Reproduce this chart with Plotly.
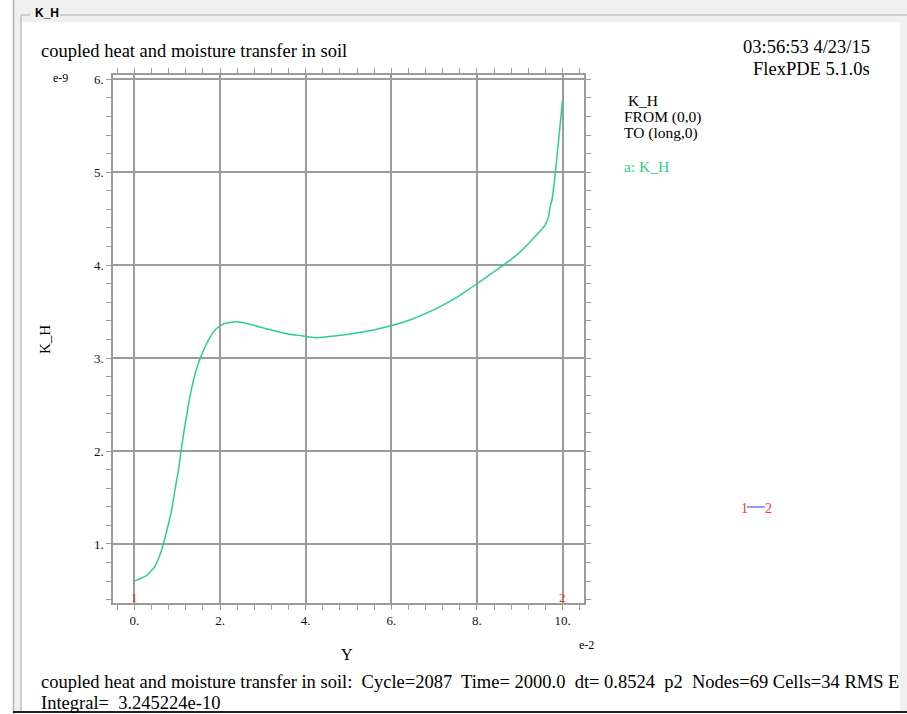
import plotly.graph_objects as go

# ---- data (Y in units of 1e-2, K_H in units of 1e-9) ----
y_pos = [0, 0.28, 0.48, 0.64, 0.76, 0.87, 0.95, 1.03, 1.09, 1.16, 1.24, 1.32, 1.43, 1.54,
         1.70, 1.90, 2.09, 2.37, 2.65, 3.12, 3.59, 3.91, 4.26, 4.72, 5.19, 5.66, 6.0, 6.43,
         6.9, 7.37, 7.68, 8.0, 8.31, 8.62, 8.93, 9.24, 9.59, 9.67, 9.71, 9.75, 9.83, 9.90,
         9.96, 10.0]
k_h = [0.60, 0.66, 0.76, 0.94, 1.15, 1.37, 1.59, 1.80, 2.0, 2.22, 2.44, 2.64, 2.85, 3.0,
       3.17, 3.31, 3.37, 3.39, 3.37, 3.31, 3.26, 3.24, 3.22, 3.24, 3.27, 3.31, 3.35, 3.41,
       3.50, 3.61, 3.70, 3.80, 3.90, 4.0, 4.11, 4.25, 4.43, 4.52, 4.63, 4.70, 4.99, 5.31,
       5.59, 5.78]
end_labels = ["1", "2"]
end_pos = [0, 10]

title_text = "coupled heat and moisture transfer in soil"
stamp_lines = ["03:56:53 4/23/15", "FlexPDE 5.1.0s"]
legend_lines = [" K_H", "FROM (0,0)", "TO (long,0)"]
series_name = "a: K_H"
footer_lines = ["coupled heat and moisture transfer in soil:  Cycle=2087  Time= 2000.0  dt= 0.8524  p2  Nodes=69 Cells=34 RMS E",
                "Integral=  3.245224e-10"]

# ---- layout geometry ----
W_FIG, H_FIG = 907, 714
L, R, T, B = 113, 584, 75, 603
PW, PH = R - L, B - T

def px(x):
    return (x - L) / PW

def py(y):
    return (B - y) / PH

SERIF = "Liberation Serif, Times New Roman, serif"
GREEN = "#2ecf88"
GRID = "#9c9c9c"

fig = go.Figure()
fig.add_trace(go.Scatter(x=y_pos, y=k_h, mode="lines",
                         line=dict(color=GREEN, width=1.5, shape="spline", smoothing=0.5),
                         showlegend=False, hoverinfo="skip"))

shapes = [
    # window background
    dict(type="rect", xref="paper", yref="paper", x0=px(13), x1=px(907), y0=py(712), y1=py(0),
         fillcolor="#f0f0f0", line=dict(width=0), layer="below"),
    dict(type="rect", xref="paper", yref="paper", x0=px(22), x1=px(900), y0=py(711), y1=py(22),
         fillcolor="white", line=dict(width=0), layer="below"),
    dict(type="line", xref="paper", yref="paper", x0=px(13.5), x1=px(13.5), y0=py(714), y1=py(0),
         line=dict(color="#b4b4b4", width=1.5), layer="below"),
    # group box border
    dict(type="line", xref="paper", yref="paper", x0=px(21), x1=px(21), y0=py(711), y1=py(15),
         line=dict(color="#c4c4c4", width=1.5), layer="below"),
    dict(type="line", xref="paper", yref="paper", x0=px(21), x1=px(30), y0=py(15), y1=py(15),
         line=dict(color="#c4c4c4", width=1.5), layer="below"),
    dict(type="line", xref="paper", yref="paper", x0=px(60), x1=px(907), y0=py(15), y1=py(15),
         line=dict(color="#c4c4c4", width=1.5), layer="below"),
    dict(type="line", xref="paper", yref="paper", x0=px(13), x1=px(907), y0=py(712), y1=py(712),
         line=dict(color="#202020", width=2), layer="below"),
    # small 1-2 marker
    dict(type="line", xref="paper", yref="paper", x0=px(747), x1=px(765), y0=py(507), y1=py(507),
         line=dict(color="#3030ff", width=1)),
]

ann = []
def text(x, y, s, size=16, color="black", xanchor="left", family=SERIF, **kw):
    ann.append(dict(x=px(x), y=py(y), xref="paper", yref="paper", text=s, showarrow=False,
                    xanchor=xanchor, yanchor="middle",
                    font=dict(family=family, size=size, color=color), **kw))

text(33, 13, "<b>K_H</b>", size=12, family="Liberation Sans, Arial, sans-serif")
text(39, 51, title_text, size=18.5)
text(872, 47, stamp_lines[0], size=18.5, xanchor="right")
text(872, 69, stamp_lines[1], size=18.5, xanchor="right")
for i, s in enumerate(legend_lines):
    text(622, 100 + i * 16.5, s, size=15.5)
text(622, 167, series_name, size=15.5, color=GREEN)
text(51, 78, "e-9", size=12)
text(577, 645, "e-2", size=12)
text(347, 654, "Y", size=16, xanchor="center")
text(45, 340, "K_H", size=15, xanchor="center", textangle=-90)
text(39, 682, footer_lines[0], size=18.5)
text(39, 703, footer_lines[1], size=18.5)
text(744, 508, "1", size=14, color="#ff3030", xanchor="center")
text(768, 508, "2", size=14, color="#ff3030", xanchor="center")

for lab, xv in zip(end_labels, end_pos):
    ann.append(dict(x=xv, y=py(597), xref="x", yref="paper", text=lab, showarrow=False,
                    xanchor="center", yanchor="middle",
                    font=dict(family=SERIF, size=13, color="#ff3030")))

axis_common = dict(showline=True, linecolor=GRID, linewidth=1.5, mirror="ticks",
                   ticks="outside", ticklen=5, tickcolor=GRID, tickwidth=1,
                   showgrid=True, gridcolor=GRID, gridwidth=1.5, zeroline=False,
                   ticksuffix=".", tickfont=dict(family=SERIF, size=13, color="#111"))

fig.update_layout(
    width=W_FIG, height=H_FIG,
    margin=dict(l=L, r=W_FIG - R, t=T, b=H_FIG - B, pad=0),
    paper_bgcolor="white", plot_bgcolor="rgba(0,0,0,0)",
    showlegend=False,
    xaxis=dict(range=[-0.5, 10.5], tickmode="linear", tick0=0, dtick=2,
               minor=dict(ticks="outside", dtick=0.4, tick0=0, ticklen=5, tickcolor=GRID, showgrid=False),
               **axis_common),
    yaxis=dict(range=[0.365, 6.046], tickmode="linear", tick0=0, dtick=1,
               minor=dict(ticks="outside", dtick=0.2, tick0=0, ticklen=5, tickcolor=GRID, showgrid=False),
               **axis_common),
    shapes=shapes,
    annotations=ann,
)

fig.write_html("out.html")
